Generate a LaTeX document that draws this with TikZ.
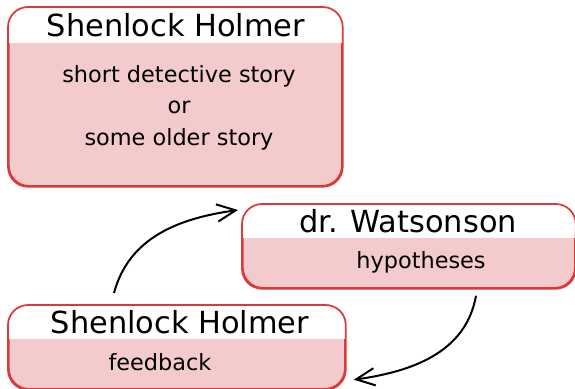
\documentclass[tikz,border=0pt]{standalone}
\usepackage{fontspec}
\setmainfont{DejaVu Sans}
\usetikzlibrary{arrows.meta}
\definecolor{boxred}{HTML}{D93A3C}
\definecolor{boxpink}{HTML}{F3CBCC}
\tikzset{
  panel/.style={draw=boxred, line width=1.3pt, fill=boxpink, rounded corners=15pt, anchor=north west, inner sep=0pt},
  titletext/.style={font=\fontsize{22.8}{26}\selectfont, inner sep=0pt},
  bodytext/.style={font=\fontsize{16.8}{20}\selectfont, inner sep=0pt},
  arr/.style={-{Straight Barb[length=14pt,width=13pt,line width=1.5pt]}, line width=1.5pt},
}
\newcommand{\headerfill}[2]{%
  \begin{scope}
    \clip[rounded corners=15pt] (#1.north west) rectangle (#1.south east);
    \fill[white] (#1.north west) rectangle ([yshift=-#2]#1.north east);
  \end{scope}
  \draw[boxred, line width=1.3pt, rounded corners=15pt] (#1.north west) rectangle (#1.south east);
}
\begin{document}
\begin{tikzpicture}[x=0.75pt,y=-0.75pt]
\useasboundingbox (0,0) rectangle (575,389);
% box 1
\node[panel, minimum width=249.75pt, minimum height=133.5pt] (b1) at (8,7) {};
\headerfill{b1}{27pt}
\node[titletext] (t1) at (176,25) {Shenlock Holmer};
\node[bodytext] (l1) at (179,76) {short detective story};
\node[bodytext] (l2) at (179,107) {or};
\node[bodytext] (l3) at (179,139) {some older story};
% box 2
\node[panel, minimum width=249pt, minimum height=62.25pt] (b2) at (242,204) {};
\headerfill{b2}{25.5pt}
\node[titletext] (t2) at (408,221) {dr. Watsonson};
\node[bodytext] (h2) at (421,262) {hypotheses};
% box 3
\node[panel, minimum width=252pt, minimum height=62.25pt] (b3) at (8,305) {};
\headerfill{b3}{25.5pt}
\node[titletext] (t3) at (180,322) {Shenlock Holmer};
\node[bodytext] (f3) at (160,362) {feedback};
% arrows
\draw[arr] ([xshift=79.5pt,yshift=9pt]b3.north west) to[out=75,in=188] ([xshift=-3pt,yshift=-4.5pt]b2.north west);
\draw[arr] ([xshift=175.5pt,yshift=-5.25pt]b2.south west) to[out=-100,in=8] ([xshift=6pt,yshift=7.5pt]b3.south east);
\end{tikzpicture}
\end{document}
